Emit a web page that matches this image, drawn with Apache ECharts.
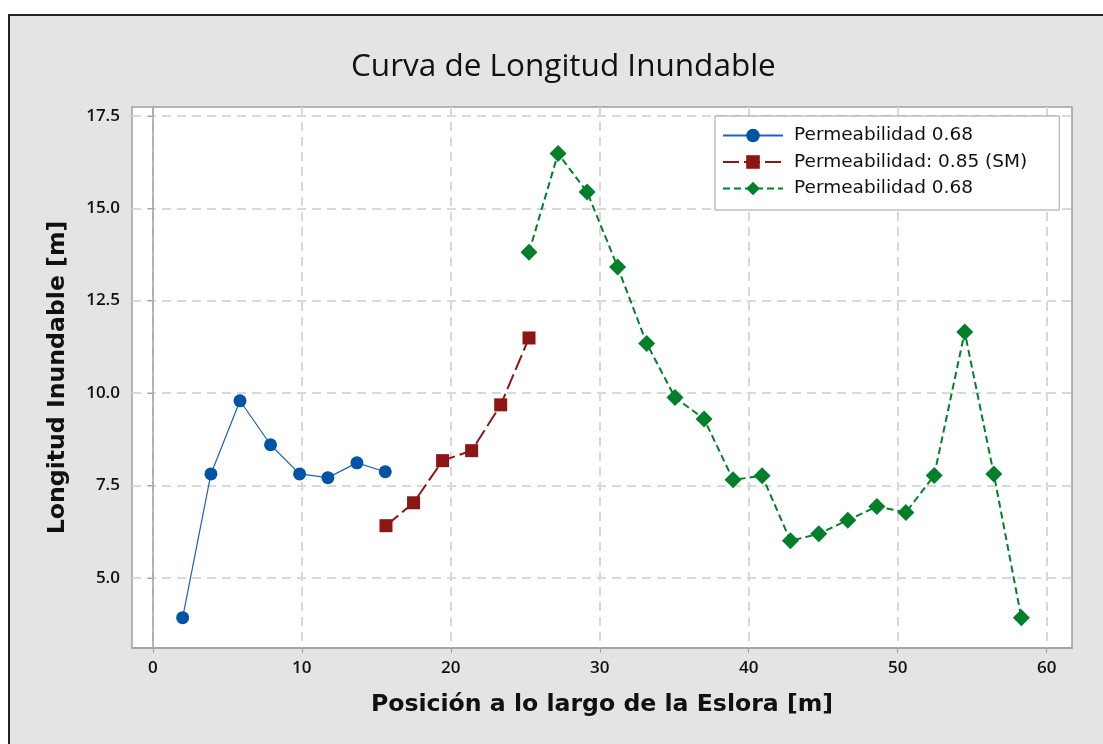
<!DOCTYPE html>
<html>
<head>
<meta charset="utf-8">
<title>Curva de Longitud Inundable</title>
<script src="https://cdn.jsdelivr.net/npm/echarts@6/dist/echarts.min.js"></script>
<style>
  html, body { margin: 0; padding: 0; background: #fff; }
  #cv { width: 1103px; height: 744px; }
</style>
</head>
<body>
<div id="cv"></div>
<script>
// datos
var xBlue = [2.0, 3.9, 5.85, 7.9, 9.85, 11.75, 13.7, 15.6];
var yBlue = [3.92, 7.81, 9.79, 8.6, 7.81, 7.71, 8.11, 7.87];

var xRed = [15.65, 17.5, 19.45, 21.4, 23.35, 25.25];
var yRed = [6.41, 7.03, 8.17, 8.44, 9.68, 11.49];

var xGreen = [25.25, 27.2, 29.15, 31.2, 33.15, 35.05, 37.0, 38.95, 40.9, 42.8, 44.7, 46.65, 48.6, 50.55, 52.45, 54.5, 56.45, 58.3];
var yGreen = [13.81, 16.48, 15.44, 13.41, 11.34, 9.88, 9.3, 7.65, 7.76, 6.0, 6.19, 6.56, 6.93, 6.77, 7.77, 11.65, 7.81, 3.92];

var seriesNames = ['Permeabilidad 0.68', 'Permeabilidad: 0.85 (SM)', 'Permeabilidad 0.68 '];
var xTicks = [0, 10, 20, 30, 40, 50, 60];
var yTicks = [5, 7.5, 10, 12.5, 15, 17.5];

function pares(xs, ys) {
    return xs.map(function (x, i) { return [x, ys[i]]; });
}

var tickFont = { color: '#111', fontSize: 17, fontWeight: 600, fontFamily: '"Open Sans", sans-serif' };
var nameFont = { color: '#111', fontSize: 23.6, fontWeight: 'bold', fontFamily: '"DejaVu Sans", sans-serif' };

var myChart = echarts.init(document.getElementById('cv'));
var option = {
    backgroundColor: '#fff',
    animation: false,
    graphic: [{
        type: 'rect',
        z: -10,
        shape: { x: 9, y: 15, width: 1200, height: 800 },
        style: { fill: '#e4e4e4', stroke: '#222', lineWidth: 2 }
    }],
    title: {
        text: 'Curva de Longitud Inundable',
        left: 346,
        top: 46,
        textStyle: { color: '#111', fontSize: 31.5, fontWeight: 'normal', fontFamily: '"Open Sans", sans-serif' }
    },
    legend: {
        orient: 'vertical',
        left: 715,
        top: 116,
        width: 360,
        padding: [10, 32, 12, 7],
        itemGap: 7.5,
        itemWidth: 60,
        itemHeight: 17,
        backgroundColor: '#fff',
        borderColor: '#a0a0a0',
        borderWidth: 1,
        borderRadius: 0,
        formatter: function (name) { return name.trim(); },
        textStyle: { color: '#111', fontSize: 18.5, lineHeight: 18, fontFamily: '"DejaVu Sans", sans-serif', padding: [0, 0, 0, 6] },
        data: seriesNames
    },
    grid: {
        left: 132,
        top: 107,
        right: 31,
        bottom: 96,
        show: true,
        backgroundColor: '#fff',
        borderColor: '#a0a0a0',
        borderWidth: 1.5
    },
    xAxis: {
        type: 'value',
        min: -1.4,
        max: 61.7,
        name: 'Posición a lo largo de la Eslora [m]',
        nameLocation: 'middle',
        nameGap: 45,
        nameTextStyle: nameFont,
        axisLine: { show: true, lineStyle: { color: '#a0a0a0', width: 1.5 } },
        axisTick: { show: true, length: 5, customValues: xTicks, lineStyle: { color: '#a0a0a0' } },
        axisLabel: Object.assign({ customValues: xTicks, margin: 12 }, tickFont),
        splitLine: { show: true, lineStyle: { color: '#d9d9d9', width: 2, type: [9, 6] } }
    },
    yAxis: {
        type: 'value',
        min: 3.1,
        max: 17.74,
        name: 'Longitud Inundable [m]',
        nameLocation: 'middle',
        nameGap: 62,
        nameTextStyle: nameFont,
        axisLine: { show: true, lineStyle: { color: '#a0a0a0', width: 1.5 } },
        axisTick: { show: true, length: 5, customValues: yTicks, lineStyle: { color: '#a0a0a0' } },
        axisLabel: Object.assign({
            customValues: yTicks,
            margin: 12,
            formatter: function (v) { return v.toFixed(1); }
        }, tickFont),
        splitLine: { show: true, lineStyle: { color: '#d9d9d9', width: 2, type: [9, 6] } }
    },
    series: [{
        name: seriesNames[0],
        type: 'line',
        data: pares(xBlue, yBlue),
        symbol: 'circle',
        symbolSize: 13,
        itemStyle: { color: '#0054a6' },
        lineStyle: { color: '#1f62b5', width: 1.2 }
    }, {
        name: seriesNames[1],
        type: 'line',
        data: pares(xRed, yRed),
        symbol: 'rect',
        symbolSize: 13,
        itemStyle: { color: '#8c1515' },
        lineStyle: { color: '#8c1515', width: 2, type: [16, 5] }
    }, {
        name: seriesNames[2],
        type: 'line',
        data: pares(xGreen, yGreen),
        symbol: 'diamond',
        symbolSize: 17,
        itemStyle: { color: '#00802b' },
        lineStyle: { color: '#00802b', width: 2, type: [7, 4] }
    }]
};
myChart.setOption(option);

window.addEventListener('resize', function () {
    myChart.resize();
});
</script>
</body>
</html>
